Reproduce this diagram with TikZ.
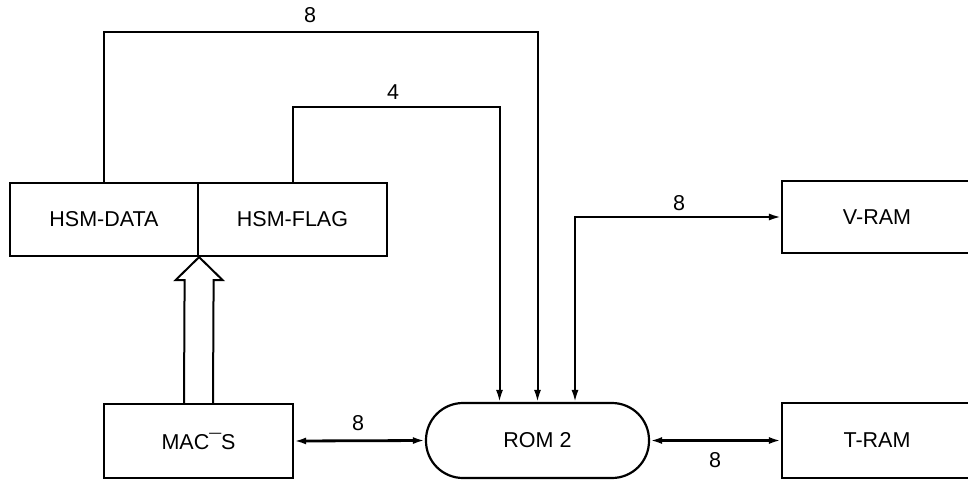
\documentclass[tikz,border=0pt]{standalone}
\usepackage{fontspec}
\setmainfont{Liberation Sans}
\usetikzlibrary{arrows.meta,calc}
\begin{document}
\begin{tikzpicture}[x=1pt,y=-1pt,
  box/.style={draw, line width=2.2pt, inner sep=0pt, minimum height=73pt, font=\fontsize{21.5}{24}\selectfont},
  lbl/.style={inner sep=0pt, font=\fontsize{21.5}{24}\selectfont},
  bus/.style={line width=2pt},
  hbus/.style={line width=2.8pt},
  >={Latex[length=12pt,width=7pt]}]
\useasboundingbox (0,0) rectangle (968,482);
\clip (0,0) rectangle (968,482);
% nodes
\node[box, minimum width=188pt] (hsmd) at (104,219.5) {HSM-DATA};
\node[box, minimum width=189pt] (hsmf) at (292.5,219.5) {HSM-FLAG};
\node[box, minimum width=189pt, minimum height=74pt] (mac) at (198.5,441) {MAC¯S};
\node[box, minimum width=223pt, minimum height=75pt, rounded corners=37pt] (rom) at (537.5,440.5) {ROM 2};
\node[box, minimum width=190pt, minimum height=72pt] (vram) at (877,217) {V-RAM};
\node[box, minimum width=190pt, minimum height=75pt] (tram) at (877,440.5) {T-RAM};
% bus coordinates
\coordinate (t8) at (310,32);
\coordinate (t4) at (393,107);
\coordinate (tip) at (hsmd.south east);
% buses
\draw[bus,->] (hsmd.north) |- (t8) -| (rom.north);
\draw[bus,->] (hsmf.north) |- (t4) -| ([xshift=-38pt]rom.north);
\draw[bus,<->] ([xshift=37.5pt]rom.north) |- (vram.west);
\draw[hbus,<->] (mac.east) -- (rom.west);
\draw[hbus,<->] (rom.east) -- (tram.west);
% hollow arrow
\draw[line width=2pt, line join=miter]
  ($(mac.north)+(-14.5,0)$) -- ($(tip)+(-14.5,23)$) -- ($(tip)+(-23.5,23)$) -- (tip)
  -- ($(tip)+(23.5,23)$) -- ($(tip)+(14.5,23)$) -- ($(mac.north)+(14.5,0)$);
% labels
\node[lbl] (l8top) at (310,15) {8};
\node[lbl] (l4) at (393,92) {4};
\node[lbl] (l8mac) at (358,423) {8};
\node[lbl] (l8v) at (679,203) {8};
\node[lbl] (l8t) at (715,460) {8};
\end{tikzpicture}
\end{document}
